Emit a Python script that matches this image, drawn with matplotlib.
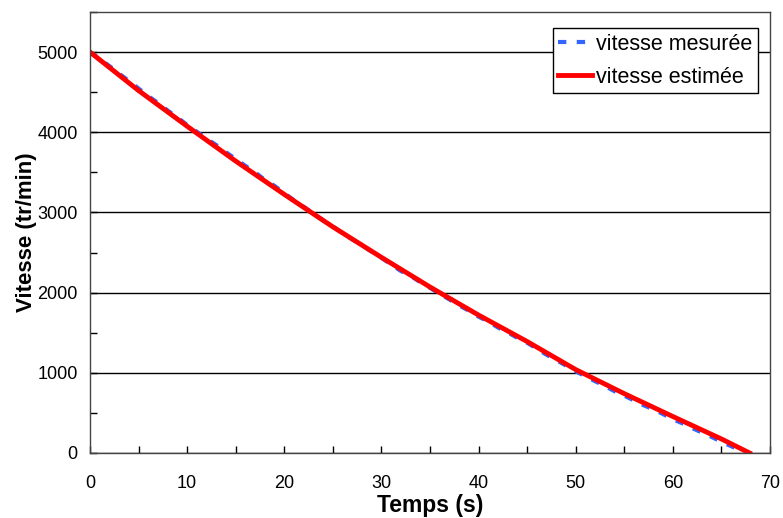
import numpy as np
import matplotlib
matplotlib.use('Agg')
from matplotlib import pyplot as plt
from matplotlib.ticker import MultipleLocator

plt.rcParams['font.family'] = ['Liberation Sans', 'DejaVu Sans']

# vitesse mesurée
t_mes = [0, 1, 2, 3, 4, 5, 6, 7, 8, 9, 10, 11, 12, 13, 14, 15, 16, 17, 18, 19,
         20, 21, 22, 23, 24, 25, 26, 27, 28, 29, 30, 31, 32, 33, 34, 35, 36, 37,
         38, 39, 40, 41, 42, 43, 44, 45, 46, 47, 48, 49, 50, 51, 52, 53, 54, 55,
         56, 57, 58, 59, 60, 61, 62, 63, 64, 65, 66, 67, 67.6]
v_mes = [5000, 4915, 4825, 4730, 4640, 4545, 4450, 4365, 4270, 4185, 4090,
         4005, 3920, 3840, 3750, 3665, 3580, 3500, 3405, 3330, 3240, 3150,
         3070, 2985, 2900, 2825, 2740, 2665, 2590, 2510, 2435, 2350, 2270,
         2210, 2130, 2060, 1985, 1915, 1840, 1775, 1700, 1640, 1565, 1505,
         1435, 1375, 1300, 1225, 1160, 1090, 1020, 955, 895, 835, 770, 715,
         655, 595, 545, 485, 420, 370, 310, 255, 200, 140, 85, 30, 0]

# vitesse estimée
t_est = [0, 5, 10, 15, 20, 25, 30, 35, 40, 45, 50, 55, 60, 65, 67.9]
v_est = [5000, 4520, 4075, 3640, 3225, 2820, 2440, 2070, 1720, 1390, 1040,
         740, 455, 175, 0]

fig = plt.figure(figsize=(7.83, 5.18), dpi=100)
ax = fig.add_axes([0.115, 0.1255, 0.8684, 0.8513])

ax.plot(t_mes, v_mes, color='#3366FF', linestyle=(0, (2, 2.5)), linewidth=3,
        label='vitesse mesurée')
ax.plot(t_est, v_est, color='#FF0000', linewidth=3.5, label='vitesse estimée')

ax.set_xlim(0, 70)
ax.set_ylim(0, 5500)
ax.xaxis.set_major_locator(MultipleLocator(10))
ax.xaxis.set_minor_locator(MultipleLocator(5))
ax.yaxis.set_major_locator(MultipleLocator(1000))
ax.yaxis.set_minor_locator(MultipleLocator(500))
ax.set_yticks([0, 1000, 2000, 3000, 4000, 5000])
ax.tick_params(which='both', direction='in', length=5, width=1, labelsize=13,
               colors='black')
ax.tick_params(axis='x', pad=15.5)
ax.tick_params(axis='y', pad=9)
ax.grid(axis='y', which='major', color='black', linewidth=1)
ax.set_axisbelow(True)
for s in ax.spines.values():
    s.set_color('#444444')
    s.set_linewidth(1)

ax.set_xlabel('Temps (s)', fontsize=16.5, fontweight='bold', labelpad=2)
ax.set_ylabel('Vitesse (tr/min)', fontsize=16, fontweight='bold', labelpad=0)

leg = ax.legend(loc='upper right', bbox_to_anchor=(0.982, 0.963), fontsize=15.5,
                frameon=True, fancybox=False, framealpha=1, edgecolor='black',
                handlelength=1.55, handletextpad=0.2, borderpad=0.25,
                labelspacing=0.55, borderaxespad=0)
leg.get_frame().set_linewidth(1)

fig.savefig('out.png', dpi=100)
